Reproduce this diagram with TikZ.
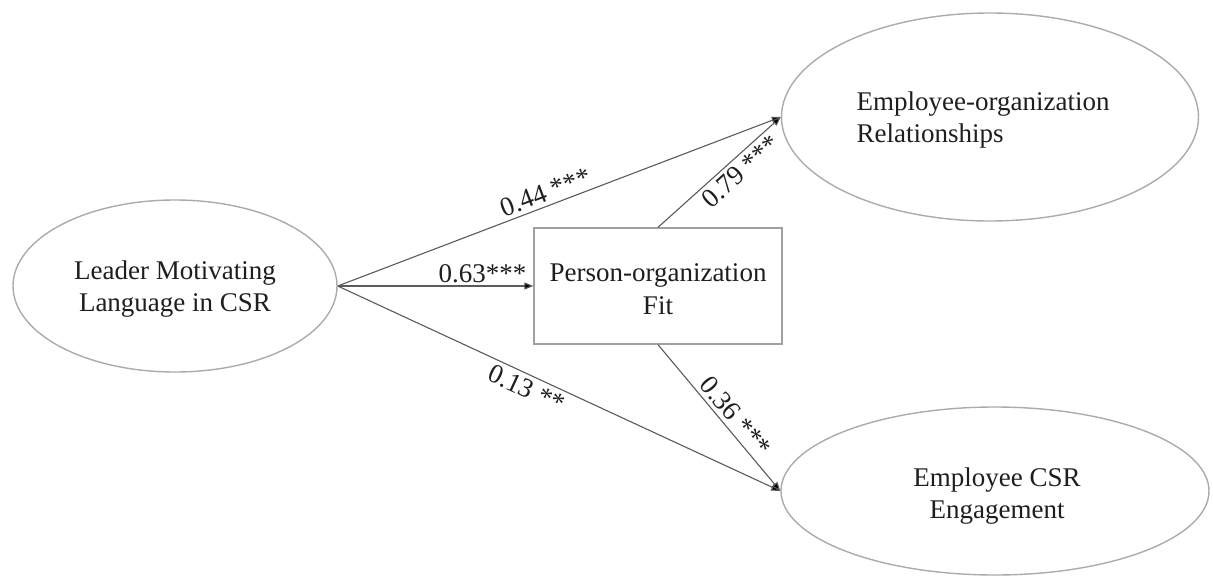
\documentclass[tikz,border=0pt]{standalone}
\usepackage{fontspec}
\setmainfont{Liberation Serif}
\usetikzlibrary{shapes.geometric,arrows.meta}
\definecolor{ellcol}{HTML}{ABABAB}
\definecolor{boxcol}{HTML}{A0A0A0}
\definecolor{linecol}{HTML}{5A5A5A}
\definecolor{txtcol}{HTML}{1E1E1E}
\begin{document}
\begin{tikzpicture}[x=1pt,y=-1pt,
  every node/.style={font=\fontsize{27}{32.5}\selectfont, text=txtcol},
  latent/.style={ellipse, draw=ellcol, line width=1.4pt, inner sep=0pt},
  observed/.style={rectangle, draw=boxcol, line width=1.3pt, inner sep=0pt},
  path/.style={draw=linecol, line width=1.1pt, -{Triangle[length=9pt,width=7pt,fill=black]}},
  coef/.style={sloped, inner sep=4pt}
]
\useasboundingbox (0,0) rectangle (1213,576);
\node[latent, minimum width=324pt, minimum height=172pt,
  label={[name=lmltxt, align=center, yshift=-3pt]center:{Leader Motivating\\Language in CSR}}] (lml) at (175,286) {};
\node[observed, minimum width=248pt, minimum height=116pt,
  label={[name=poftxt, align=center, yshift=-3pt]center:{Person-organization\\Fit}}] (pof) at (658,286) {};
\node[latent, minimum width=417pt, minimum height=208pt,
  label={[name=eortxt, align=left, xshift=-7pt, yshift=-3pt]center:{Employee-organization\\Relationships}}] (eor) at (990,117) {};
\node[latent, minimum width=428pt, minimum height=168pt,
  label={[name=ecetxt, align=center, xshift=2pt, yshift=-5pt]center:{Employee CSR\\Engagement}}] (ece) at (995,491) {};
\draw[path] (lml.east) -- node[coef, above, pos=0.48] {0.44 ***} (eor.west);
\draw[path] (lml.east) -- node[above, pos=0.74, inner sep=3pt] {0.63***} (pof.west);
\draw[path] (lml.east) -- node[coef, below, pos=0.44] {0.13 **} (ece.west);
\draw[path] (pof.north) -- node[coef, below, pos=0.6] {0.79 ***} (eor.west);
\draw[path] (pof.south) -- node[coef, above, pos=0.55] {0.36 ***} (ece.west);
\end{tikzpicture}
\end{document}
